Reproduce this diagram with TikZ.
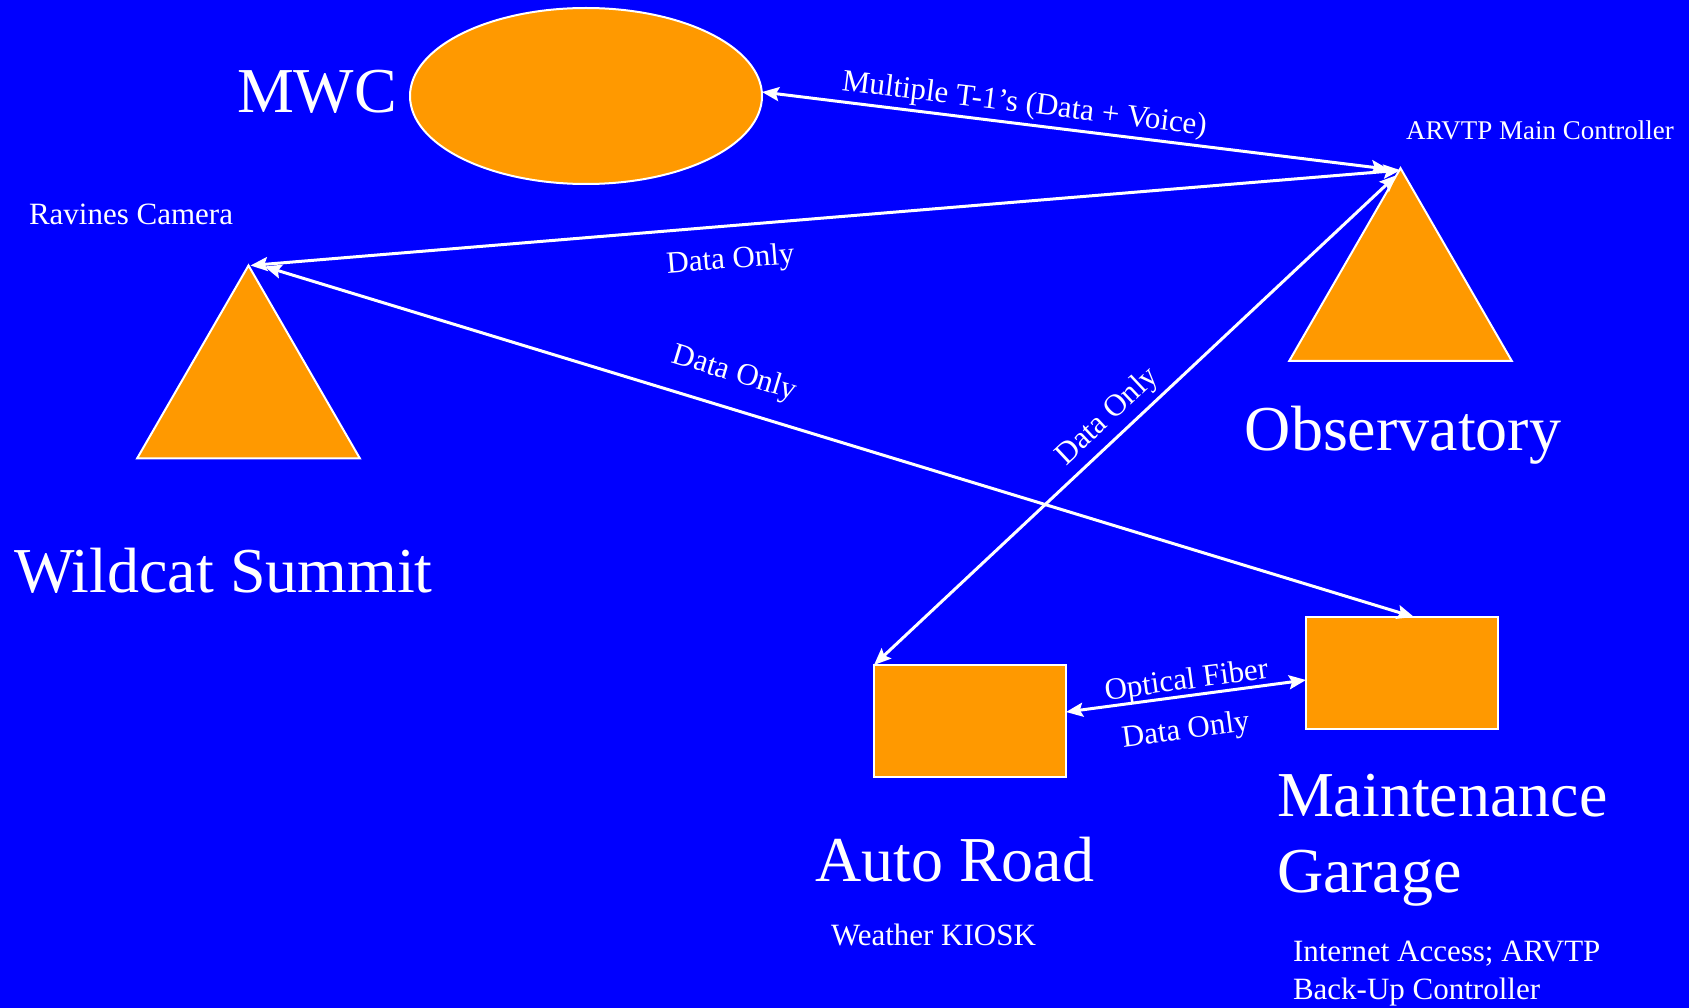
\documentclass[tikz,border=0pt]{standalone}
\usepackage{fontspec}
\setmainfont{Liberation Serif}
\usetikzlibrary{shapes.geometric}
\usetikzlibrary{arrows.meta}
\usetikzlibrary{positioning}
\definecolor{bluebg}{RGB}{0,0,255}
\definecolor{site}{RGB}{255,153,0}

\begin{document}
\begin{tikzpicture}[x=1pt,y=-1pt,every node/.style={inner sep=0pt,outer sep=0pt},
  place/.style={draw=white,line width=2pt,fill=site},
  tri/.style={place,regular polygon,regular polygon sides=3,minimum size=257pt},
  box/.style={place,rectangle,minimum width=192pt,minimum height=112pt},
  big/.style={text=white,font=\fontsize{64}{76}\selectfont,align=left},
  small/.style={text=white,font=\fontsize{31}{38}\selectfont,align=left},
  link/.style={white,line width=3pt,{Stealth[length=17pt,width=14pt,inset=3pt]}-{Stealth[length=17pt,width=14pt,inset=3pt]}},
  lbl/.style={text=white,font=\fontsize{31}{37}\selectfont,sloped,inner sep=5pt}]
  \useasboundingbox (0,0) rectangle (1689,1008);
  \fill[bluebg] (0,0) rectangle (1689,1008);

  \node[place,ellipse,minimum width=352pt,minimum height=176pt] (mwc) at (586,96){};
  \node[tri] (obs) at (1400.5,296.7){};
  \node[tri] (rav) at (248.5,394){};
  \node[box] (auto) at (970,721){};
  \node[box] (garage) at (1402,673){};

  \node[big,anchor=base west] (mwclbl) at (237,113){MWC};
  \node[big,anchor=base] (obslbl) at (1403,450){Observatory};
  \node[big,anchor=base west] (ravlbl) at (14,592){Wildcat Summit};
  \node[big,anchor=base west] (autolbl) at (815,881){Auto Road};
  \node[big,anchor=base west] (garagelbl) at (1277,892){Maintenance\\Garage};
  \node[small,anchor=base west] (cam) at (29,225){Ravines Camera};
  \node[small,anchor=base west,font=\fontsize{27}{32}\selectfont] (ctrl) at (1406,140){ARVTP Main Controller};
  \node[small,anchor=base west] (kiosk) at (831,945){Weather KIOSK};
  \node[small,anchor=base west] (backup) at (1293,999){Internet Access; ARVTP\\Back-Up Controller};

  \draw[link]([yshift=4pt]mwc.east)--node[lbl,above,pos=0.415]{Multiple T-1’s (Data + Voice)}([xshift=-12pt,yshift=-1pt]obs.corner 1);
  \draw[link]([yshift=-2pt]obs.corner 1)--node[lbl,below=16pt,pos=0.585]{Data Only}([xshift=2pt]rav.corner 1);
  \draw[link]([xshift=16pt,yshift=-1pt]rav.corner 1)--node[lbl,above=15pt,pos=0.40]{Data Only}([xshift=12pt]garage.north);
  \draw[link]([xshift=-4pt,yshift=-7pt]obs.corner 1)--node[lbl,above=2pt,pos=0.525]{Data Only}(auto.north west);
  \draw[link]([yshift=9pt]auto.east)--node[lbl,above=-5pt,pos=0.51]{Optical Fiber}node[lbl,below=16pt,pos=0.48]{Data Only}([yshift=-7pt]garage.west);
\end{tikzpicture}
\end{document}
